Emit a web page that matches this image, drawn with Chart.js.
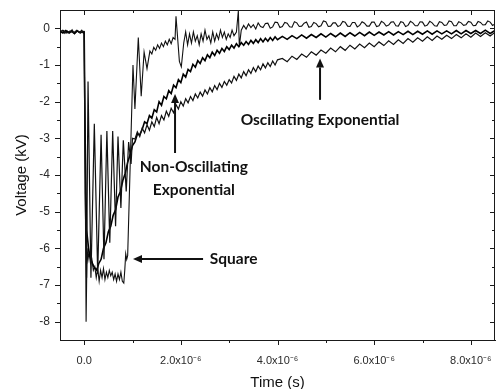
<!DOCTYPE html>
<html><head><meta charset="utf-8">
<script src="https://cdn.jsdelivr.net/npm/chart.js@4/dist/chart.umd.min.js"></script>
<style>html,body{margin:0;padding:0;background:#fff}</style>
</head><body>
<canvas id="c" width="496" height="389"></canvas>
<script>
// Time in microseconds (axis labelled in seconds), voltage in kV
const squareTrace = [[-0.5,-0.1],[-0.45,-0.05],[-0.4,-0.14],[-0.35,-0.07],[-0.3,-0.13],[-0.25,-0.04],[-0.2,-0.15],[-0.15,-0.06],[-0.1,-0.12],[-0.05,-0.05],[-0.02,-0.13],[0,-0.1],
[0.02,-3.6],[0.04,-8.0],[0.06,-6.0],[0.08,-6.3],[0.1,-6.1],[0.13,-6.4],[0.16,-6.3],[0.19,-6.6],[0.22,-6.5],[0.25,-6.8],[0.28,-6.55],[0.31,-6.9],[0.34,-6.6],[0.37,-6.8],[0.4,-6.55],[0.43,-6.85],[0.46,-6.65],[0.49,-6.8],[0.52,-6.6],[0.55,-6.75],[0.58,-6.65],[0.61,-6.85],[0.64,-6.7],[0.67,-6.9],[0.7,-6.7],[0.73,-6.85],[0.76,-6.65],[0.79,-6.9],[0.82,-6.95],[0.84,-6.6],[0.86,-6.15],[0.88,-6.3],[0.9,-6.2],
[1.01,-1.0],[1.05,-2.2],[1.12,-0.25],[1.18,-1.85],[1.24,-0.65],[1.3,-1.1],[1.36,-0.62],[1.4,-0.7],[1.44,-0.52],[1.48,-0.6],[1.52,-0.45],[1.56,-0.55],[1.6,-0.4],[1.64,-0.5],[1.68,-0.35],[1.72,-0.45],[1.76,-0.3],[1.8,-0.42],[1.84,-0.25],[1.88,-0.3],[1.9,0.33],[1.97,-0.9],[2.01,-1.05],[2.06,-0.4],[2.1,-0.1],[2.14,-0.45],[2.18,-0.15],[2.22,-0.4],[2.26,-0.1],[2.3,-0.35],[2.34,-0.2],[2.38,-0.45],[2.42,-0.15],[2.46,-0.35],[2.5,-0.05],[2.54,-0.3],[2.58,-0.2],[2.62,-0.4],[2.66,-0.1],[2.7,-0.35],[2.74,-0.15],[2.78,-0.3],[2.82,-0.05],[2.86,-0.25],[2.9,-0.1],[2.94,-0.3],[2.98,-0.15],[3.02,-0.25],[3.06,-0.05],[3.1,-0.2],[3.15,-0.1],[3.19,0.48],[3.21,-0.5],[3.25,-0.05],[3.3,0.08],[3.35,-0.02],[3.4,0.12],[3.45,0.02],[3.5,0.1],[3.55,-0.02],[3.6,0.15],[3.65,0.05],[3.7,0.02],[3.75,0.13],[3.8,0.14],[3.85,0.0],[3.9,0.04],[3.95,0.17],[4.0,0.16],[4.05,0.02],[4.1,0.05],[4.15,0.16],[4.2,0.14],[4.25,0.04],[4.3,0.03],[4.35,0.18],[4.4,0.15],[4.45,0.05],[4.5,0.06],[4.55,0.14],[4.6,0.17],[4.65,0.03],[4.7,0.05],[4.75,0.16],[4.8,0.13],[4.85,0.04],[4.9,0.07],[4.95,0.2],[5.0,0.18],[5.05,0.05],[5.1,0.06],[5.15,0.15],[5.2,0.15],[5.25,0.05],[5.3,0.08],[5.35,0.19],[5.4,0.17],[5.45,0.06],[5.5,0.05],[5.55,0.16],[5.6,0.16],[5.65,0.04],[5.7,0.08],[5.75,0.18],[5.8,0.14],[5.85,0.06],[5.9,0.06],[5.95,0.17],[6.0,0.17],[6.05,0.05],[6.1,0.07],[6.15,0.19],[6.2,0.15],[6.25,0.06],[6.3,0.09],[6.35,0.17],[6.4,0.18],[6.45,0.07],[6.5,0.06],[6.55,0.18],[6.6,0.16],[6.65,0.05],[6.7,0.08],[6.75,0.19],[6.8,0.15],[6.85,0.07],[6.9,0.07],[6.95,0.18],[7.0,0.17],[7.05,0.06],[7.1,0.09],[7.15,0.19],[7.2,0.15],[7.25,0.07],[7.3,0.06],[7.35,0.18],[7.4,0.16],[7.45,0.08],[7.5,0.09],[7.55,0.2],[7.6,0.18],[7.65,0.07],[7.7,0.07],[7.75,0.18],[7.8,0.15],[7.85,0.08],[7.9,0.1],[7.95,0.19],[8.0,0.17],[8.05,0.07],[8.1,0.08],[8.15,0.19],[8.2,0.16],[8.25,0.09],[8.3,0.1],[8.35,0.2],[8.4,0.17],[8.45,0.08],[8.5,0.12]];

const nonOscTrace = [[-0.5,-0.08],[-0.44,-0.13],[-0.38,-0.06],[-0.32,-0.12],[-0.26,-0.08],[-0.2,-0.14],[-0.14,-0.07],[-0.08,-0.12],[-0.02,-0.09],[0,-0.1],[0.02,-3.0],[0.05,-5.5],[0.1,-6.1],[0.15,-6.35],[0.2,-6.5],[0.26,-6.6],[0.3,-6.42],[0.35,-6.3],[0.4,-6.0],[0.45,-5.85],[0.5,-5.55],[0.55,-5.4],[0.6,-5.1],[0.65,-4.95],[0.7,-4.6],[0.75,-4.45],[0.8,-4.15],[0.85,-3.95],[0.9,-3.65],[0.95,-3.45],[1.0,-3.2],[1.05,-3.1],
[1.1,-2.89],[1.15,-2.9],[1.2,-2.76],[1.25,-2.55],[1.3,-2.6],[1.35,-2.38],[1.4,-2.45],[1.45,-2.22],[1.5,-2.28],[1.55,-2.0],[1.6,-2.1],[1.65,-1.86],[1.7,-1.92],[1.75,-1.7],[1.8,-1.78],[1.85,-1.55],[1.9,-1.62],[1.95,-1.4],[2.0,-1.48],[2.05,-1.25],[2.1,-1.33],[2.15,-1.12],[2.2,-1.18],[2.25,-0.98],[2.3,-1.06],[2.35,-0.88],[2.4,-0.96],[2.45,-0.8],[2.5,-0.88],[2.55,-0.72],[2.6,-0.8],[2.65,-0.65],[2.7,-0.74],[2.75,-0.6],[2.8,-0.68],[2.85,-0.55],[2.9,-0.63],[2.95,-0.5],[3.0,-0.58],[3.05,-0.46],[3.1,-0.54],[3.15,-0.42],[3.2,-0.5],[3.25,-0.39],[3.3,-0.46],[3.35,-0.36],[3.4,-0.44],[3.45,-0.33],[3.5,-0.41],[3.55,-0.31],[3.6,-0.39],[3.65,-0.28],[3.7,-0.37],[3.75,-0.27],[3.8,-0.35],[3.85,-0.25],[3.9,-0.33],[3.95,-0.23],[4.0,-0.31],[4.1,-0.22],[4.2,-0.3],[4.3,-0.2],[4.4,-0.28],[4.5,-0.18],[4.6,-0.27],[4.7,-0.17],[4.8,-0.25],[4.9,-0.15],[5.0,-0.24],[5.1,-0.14],[5.2,-0.23],[5.3,-0.13],[5.4,-0.22],[5.5,-0.12],[5.6,-0.21],[5.7,-0.11],[5.8,-0.2],[5.9,-0.1],[6.0,-0.19],[6.1,-0.1],[6.2,-0.18],[6.3,-0.09],[6.4,-0.18],[6.5,-0.09],[6.6,-0.17],[6.7,-0.08],[6.8,-0.17],[6.9,-0.08],[7.0,-0.16],[7.1,-0.07],[7.2,-0.16],[7.3,-0.07],[7.4,-0.15],[7.5,-0.07],[7.6,-0.15],[7.7,-0.06],[7.8,-0.15],[7.9,-0.06],[8.0,-0.14],[8.1,-0.06],[8.2,-0.14],[8.3,-0.05],[8.4,-0.14],[8.5,-0.06]];

const oscTrace = [[-0.5,-0.11],[-0.43,-0.06],[-0.36,-0.13],[-0.29,-0.07],[-0.22,-0.12],[-0.15,-0.05],[-0.08,-0.13],[-0.03,-0.08],[0,-0.1],[0.02,-4.5],[0.05,-6.8],[0.08,-1.45],[0.14,-6.8],[0.21,-2.6],[0.28,-6.7],[0.35,-2.9],[0.41,-6.3],[0.47,-2.8],[0.53,-5.85],[0.59,-2.8],[0.65,-5.4],[0.7,-2.95],[0.76,-4.9],[0.81,-3.05],[0.87,-4.45],[0.92,-3.1],[0.97,-3.7],[1.0,-3.0],
[1.05,-3.02],[1.1,-2.82],[1.15,-2.95],[1.2,-2.72],[1.25,-2.85],[1.3,-2.63],[1.35,-2.78],[1.4,-2.55],[1.45,-2.68],[1.5,-2.43],[1.55,-2.6],[1.6,-2.38],[1.65,-2.5],[1.7,-2.26],[1.75,-2.4],[1.8,-2.18],[1.85,-2.3],[1.9,-2.08],[1.95,-2.2],[2.0,-2.0],[2.05,-2.12],[2.1,-1.92],[2.15,-2.03],[2.2,-1.86],[2.25,-1.97],[2.3,-1.79],[2.35,-1.9],[2.4,-1.74],[2.45,-1.85],[2.5,-1.68],[2.55,-1.79],[2.6,-1.62],[2.65,-1.73],[2.7,-1.56],[2.75,-1.67],[2.8,-1.5],[2.85,-1.61],[2.9,-1.45],[2.95,-1.55],[3.0,-1.4],[3.05,-1.49],[3.1,-1.31],[3.15,-1.42],[3.2,-1.25],[3.25,-1.35],[3.3,-1.18],[3.35,-1.29],[3.4,-1.13],[3.45,-1.23],[3.5,-1.07],[3.55,-1.18],[3.6,-1.03],[3.65,-1.13],[3.7,-0.97],[3.75,-1.08],[3.8,-0.94],[3.85,-1.04],[3.9,-0.89],[3.95,-1.0],[4.0,-0.86],[4.1,-0.82],[4.2,-0.91],[4.3,-0.76],[4.4,-0.85],[4.5,-0.7],[4.6,-0.79],[4.7,-0.64],[4.8,-0.73],[4.9,-0.59],[5.0,-0.68],[5.1,-0.54],[5.2,-0.64],[5.3,-0.5],[5.4,-0.6],[5.5,-0.46],[5.6,-0.56],[5.7,-0.43],[5.8,-0.53],[5.9,-0.4],[6.0,-0.5],[6.1,-0.37],[6.2,-0.47],[6.3,-0.34],[6.4,-0.44],[6.5,-0.31],[6.6,-0.41],[6.7,-0.28],[6.8,-0.38],[6.9,-0.26],[7.0,-0.35],[7.1,-0.23],[7.2,-0.33],[7.3,-0.21],[7.4,-0.3],[7.5,-0.19],[7.6,-0.28],[7.7,-0.17],[7.8,-0.26],[7.9,-0.15],[8.0,-0.24],[8.1,-0.13],[8.2,-0.22],[8.3,-0.12],[8.4,-0.21],[8.5,-0.11]];

const xMajorTicks = [0, 2, 4, 6, 8];
const xTickLabels = ['0.0', '2.0x10\u207B\u2076', '4.0x10\u207B\u2076', '6.0x10\u207B\u2076', '8.0x10\u207B\u2076'];
const xMinorTicks = [1, 3, 5, 7];
const yMajorTicks = [0, -1, -2, -3, -4, -5, -6, -7, -8];
const yTickLabels = ['0', '-1', '-2', '-3', '-4', '-5', '-6', '-7', '-8'];
const yMinorTicks = [-0.5, -1.5, -2.5, -3.5, -4.5, -5.5, -6.5, -7.5];

// Annotation labels, anchored in data units
const annotationLabels = [
  {lines: ['Square'], x: 2.6, y: -6.29, align: 'left', arrowFrom: [2.46, -6.29], arrowTo: [1.01, -6.29]},
  {lines: ['Oscillating Exponential'], x: 4.88, y: -2.5, align: 'center', arrowFrom: [4.88, -1.95], arrowTo: [4.88, -0.82]},
  {lines: ['Non-Oscillating', 'Exponential'], x: 2.27, y: -3.78, align: 'center', arrowFrom: [1.88, -3.4], arrowTo: [1.88, -1.79]}
];

const toXY = tr => tr.map(p => ({x: p[0], y: p[1]}));

const framePlugin = {
  id: 'frame',
  afterDraw(chart) {
    const {ctx, chartArea: ca, scales: {x, y}} = chart;
    ctx.save();
    ctx.strokeStyle = '#1a1a1a';
    ctx.lineWidth = 1;
    ctx.beginPath();
    ctx.moveTo(ca.left, ca.top + 0.5); ctx.lineTo(ca.right, ca.top + 0.5);
    ctx.moveTo(ca.right - 0.5, ca.top); ctx.lineTo(ca.right - 0.5, ca.bottom);
    const xt = (v, len) => {
      const px = Math.round(x.getPixelForValue(v)) + 0.5;
      ctx.moveTo(px, ca.bottom); ctx.lineTo(px, ca.bottom + len);
      ctx.moveTo(px, ca.top); ctx.lineTo(px, ca.top + len);
    };
    const yt = (v, len) => {
      const py = Math.round(y.getPixelForValue(v)) + 0.5;
      ctx.moveTo(ca.left, py); ctx.lineTo(ca.left - len, py);
      ctx.moveTo(ca.right, py); ctx.lineTo(ca.right - len, py);
    };
    xMajorTicks.forEach(v => xt(v, 5));
    xMinorTicks.forEach(v => xt(v, 3));
    yMajorTicks.forEach(v => yt(v, 5));
    yMinorTicks.forEach(v => yt(v, 3));
    ctx.stroke();

    // annotations
    ctx.fillStyle = '#111';
    ctx.strokeStyle = '#111';
    ctx.font = 'bold 15.5px Lato, "Open Sans", sans-serif';
    ctx.textBaseline = 'middle';
    annotationLabels.forEach(a => {
      const tx = x.getPixelForValue(a.x), ty = y.getPixelForValue(a.y);
      ctx.textAlign = a.align;
      a.lines.forEach((l, i) => ctx.fillText(l, tx, ty + i * 23));
      const fx = x.getPixelForValue(a.arrowFrom[0]), fy = y.getPixelForValue(a.arrowFrom[1]);
      const gx = x.getPixelForValue(a.arrowTo[0]), gy = y.getPixelForValue(a.arrowTo[1]);
      const ang = Math.atan2(gy - fy, gx - fx);
      const hl = 9, hw = 4;
      const bx = gx - hl * Math.cos(ang), by = gy - hl * Math.sin(ang);
      ctx.lineWidth = 2;
      ctx.beginPath(); ctx.moveTo(fx, fy); ctx.lineTo(bx, by); ctx.stroke();
      ctx.beginPath();
      ctx.moveTo(gx, gy);
      ctx.lineTo(bx + hw * Math.sin(ang), by - hw * Math.cos(ang));
      ctx.lineTo(bx - hw * Math.sin(ang), by + hw * Math.cos(ang));
      ctx.closePath(); ctx.fill();
    });
    ctx.restore();
  }
};

const noPad = s => { s.paddingTop = 0; s.paddingBottom = 0; s.paddingLeft = 0; s.paddingRight = 0; };

new Chart(document.getElementById('c'), {
  type: 'line',
  data: {
    datasets: [
      {label: 'Oscillating Exponential', data: toXY(oscTrace), borderColor: '#111', borderWidth: 1.2},
      {label: 'Non-Oscillating Exponential', data: toXY(nonOscTrace), borderColor: '#000', borderWidth: 1.6},
      {label: 'Square', data: toXY(squareTrace), borderColor: '#111', borderWidth: 1.1}
    ]
  },
  options: {
    responsive: false,
    devicePixelRatio: 1,
    animation: false,
    layout: {padding: {top: 10, right: 1, left: 0, bottom: 0}},
    elements: {point: {radius: 0}, line: {tension: 0, fill: false}},
    plugins: {legend: {display: false}, tooltip: {enabled: false}},
    scales: {
      x: {
        type: 'linear', min: -0.5, max: 8.5,
        afterBuildTicks: s => { s.ticks = xMajorTicks.map(v => ({value: v})); },
        afterFit: s => { s.height = 49; noPad(s); },
        grid: {display: false, drawTicks: false},
        border: {display: true, color: '#1a1a1a', width: 1},
        ticks: {
          autoSkip: false, maxRotation: 0, padding: 14, color: '#2a2a2a',
          font: {family: '"Liberation Sans", Arial, sans-serif', size: 11},
          callback: v => xTickLabels[xMajorTicks.indexOf(v)]
        },
        title: {display: true, text: 'Time (s)', color: '#111',
          font: {family: '"Liberation Sans", Arial, sans-serif', size: 15},
          padding: {top: 0, bottom: -3}}
      },
      y: {
        type: 'linear', min: -8.5, max: 0.5,
        afterBuildTicks: s => { s.ticks = yMajorTicks.map(v => ({value: v})); },
        afterFit: s => { s.width = 60; noPad(s); },
        grid: {display: false, drawTicks: false},
        border: {display: true, color: '#1a1a1a', width: 1},
        ticks: {
          autoSkip: false, padding: 10, color: '#2a2a2a',
          font: {family: '"Liberation Sans", Arial, sans-serif', size: 12},
          callback: v => yTickLabels[yMajorTicks.indexOf(v)]
        },
        title: {display: true, text: 'Voltage (kV)', color: '#111',
          font: {family: '"Liberation Sans", Arial, sans-serif', size: 15},
          padding: {top: 13, bottom: 0}}
      }
    }
  },
  plugins: [framePlugin]
});
</script>
</body></html>
